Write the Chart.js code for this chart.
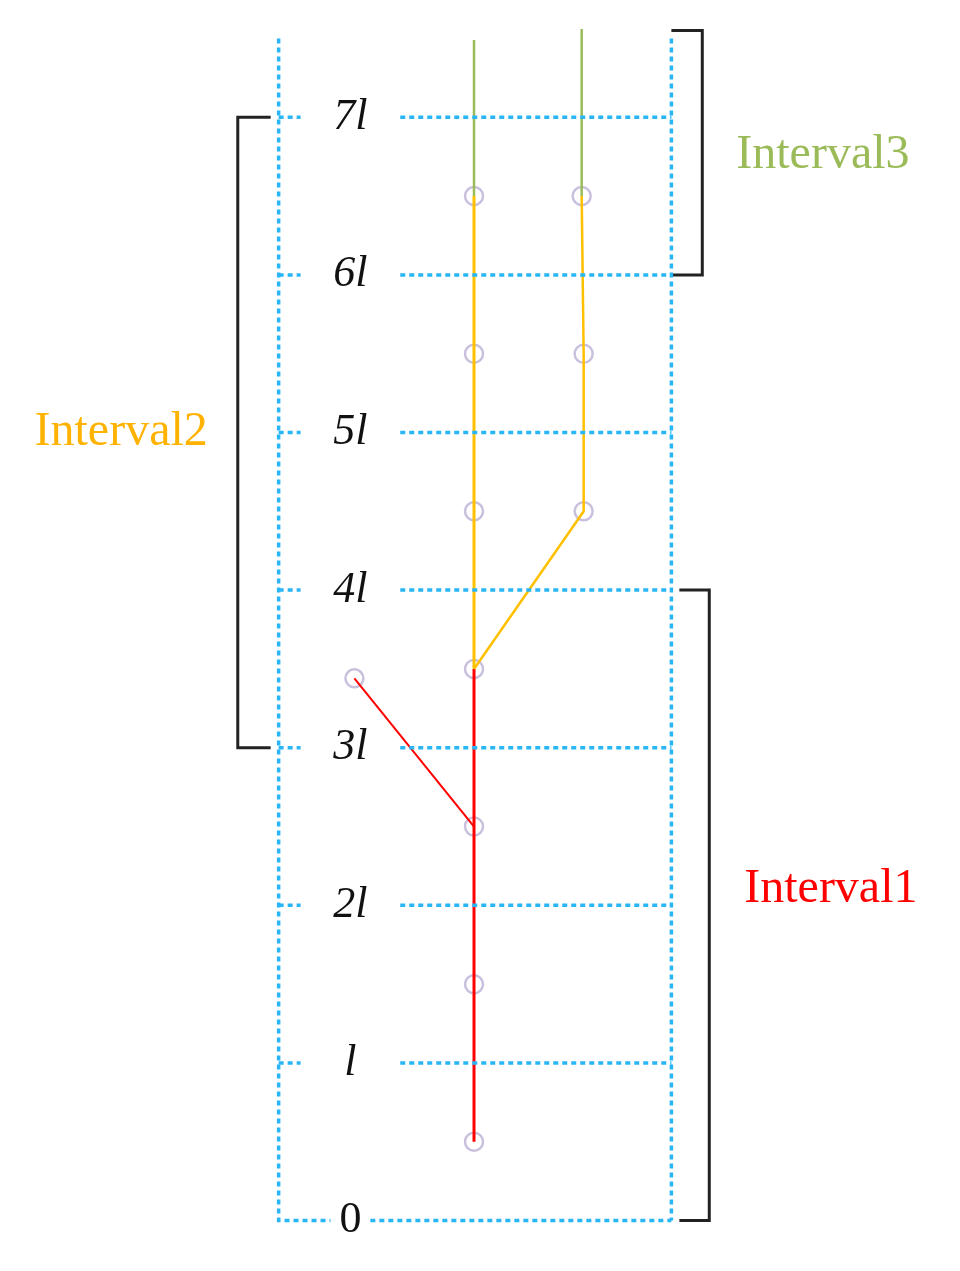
<!DOCTYPE html>
<html><head><meta charset="utf-8">
<script src="https://cdn.jsdelivr.net/npm/chart.js@4"></script>
<style>html,body{margin:0;padding:0;background:#fff}#c{display:block}</style>
</head><body>
<div style="width:960px;height:1271px"><canvas id="c"></canvas></div>
<script>
const levels=[0,1,2,3,4,5,6,7];
const levelLabels=["0","l","2l","3l","4l","5l","6l","7l"];
const mainX=474, sideX=582, branchX=354;
const mainNodes=[0.5,1.5,2.5,3.5,4.5,5.5,6.5];
const sideNodes=[4.5,5.5,6.5];
const redBranch=[[branchX,3.44],[mainX,2.5]];
const yellowBranch=[[mainX,3.5],[584,4.5],[584,5.5],[sideX,6.5]];
const greenTops=[[mainX,7.49],[sideX,7.56]];
const intervals=[{name:"Interval1",color:"#ff0000"},{name:"Interval2",color:"#ffb300"},{name:"Interval3",color:"#9bbb59"}];
const blue="#29b6f6";
const pts=a=>a.map(p=>({x:p[0],y:p[1]}));
const ds=[];
levels.forEach(v=>{
  const x0 = v===0?370:400;
  ds.push({data:pts([[x0,v],[672,v]]),borderColor:blue,borderWidth:3.5,borderDash:[5,4],pointRadius:0,showLine:true});
  if(v>0) ds.push({data:pts([[278,v],[300,v]]),borderColor:blue,borderWidth:3.5,borderDash:[5,4],pointRadius:0,showLine:true});
});
ds.push({data:pts([[278,7.5],[278,0],[330,0]]),borderColor:blue,borderWidth:3.5,borderDash:[5,4],pointRadius:0,showLine:true});
ds.push({data:pts([[672,7.5],[672,0]]),borderColor:blue,borderWidth:3.5,borderDash:[5,4],pointRadius:0,showLine:true});
// brackets
ds.push({data:pts([[270,7],[237,7],[237,3],[270,3]]),borderColor:"#222",borderWidth:3,pointRadius:0,showLine:true});
ds.push({data:pts([[672,7.55],[703,7.55],[703,6],[672,6]]),borderColor:"#222",borderWidth:3,pointRadius:0,showLine:true});
ds.push({data:pts([[680,4],[710,4],[710,0],[680,0]]),borderColor:"#222",borderWidth:3,pointRadius:0,showLine:true});
// branches
ds.push({data:pts([[mainX,6.5],greenTops[0]]),borderColor:"#9bbb59",borderWidth:2.5,pointRadius:0,showLine:true});
ds.push({data:pts([[sideX,6.5],greenTops[1]]),borderColor:"#9bbb59",borderWidth:2.5,pointRadius:0,showLine:true});
ds.push({data:pts([[mainX,3.5],[mainX,6.5]]),borderColor:"#ffc000",borderWidth:3,pointRadius:0,showLine:true});
ds.push({data:pts(yellowBranch),borderColor:"#ffc000",borderWidth:2.5,pointRadius:0,showLine:true});
ds.push({data:pts([[mainX,0.5],[mainX,3.5]]),borderColor:"#ff0000",borderWidth:3,pointRadius:0,showLine:true});
ds.push({data:pts(redBranch),borderColor:"#ff0000",borderWidth:2,pointRadius:0,showLine:true});
// nodes
const nodes=[...mainNodes.map(y=>[mainX,y]),[584,4.5],[584,5.5],[sideX,6.5],[branchX,3.44]];
ds.push({data:pts(nodes),showLine:false,pointRadius:9,pointBackgroundColor:"#fff",pointBorderColor:"#c9c0dd",pointBorderWidth:2.5});
const textPlugin={id:"txt",afterDatasetsDraw(ch){
  const c=ch.ctx,xs=ch.scales.x,ys=ch.scales.y;
  c.save();c.textBaseline="middle";c.textAlign="center";
  levels.forEach((v,i)=>{
    c.font=(i===0?"":"italic ")+"44px 'Liberation Serif'";c.fillStyle="#111";
    c.fillText(levelLabels[i],xs.getPixelForValue(350),ys.getPixelForValue(v));
  });
  c.font="48px 'Liberation Serif'";
  c.fillStyle=intervals[0].color;c.fillText(intervals[0].name,xs.getPixelForValue(832),ys.getPixelForValue(2.1));
  c.fillStyle=intervals[1].color;c.fillText(intervals[1].name,xs.getPixelForValue(120),ys.getPixelForValue(5));
  c.fillStyle=intervals[2].color;c.fillText(intervals[2].name,xs.getPixelForValue(824),ys.getPixelForValue(6.76));
  c.restore();
}};
new Chart(document.getElementById("c"),{type:"scatter",data:{datasets:ds},
 options:{responsive:true,maintainAspectRatio:false,animation:false,layout:{padding:0},
  plugins:{legend:{display:false},tooltip:{enabled:false}},
  scales:{x:{type:"linear",min:10,max:950,display:false},y:{type:"linear",min:-0.247,max:7.671,display:false}}},
 plugins:[textPlugin]});
</script></body></html>
